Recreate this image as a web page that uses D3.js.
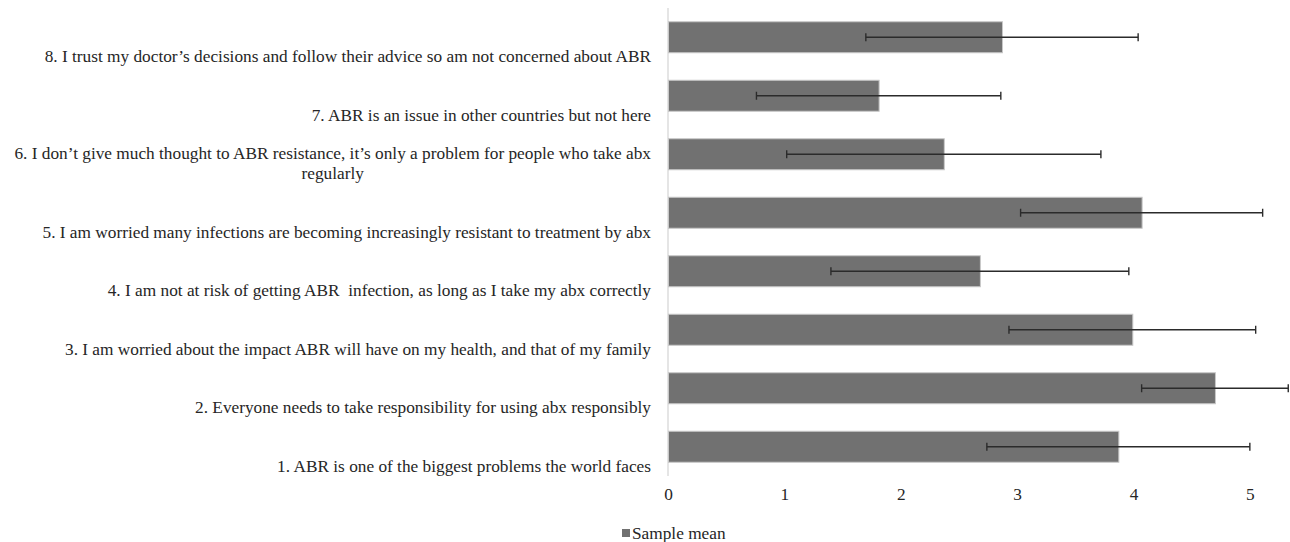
<!DOCTYPE html>
<html>
<head>
<meta charset="utf-8">
<script src="https://cdn.jsdelivr.net/npm/d3@7"></script>
<style>
  html, body { margin: 0; padding: 0; background: #fff; }
  svg { display: block; }
  svg text { fill: #262626; white-space: pre; }
</style>
</head>
<body>
<svg id="chart" width="1290" height="542"></svg>
<script>
const FONT = "Liberation Serif";
const FONT_SIZE = 17.3;

// Statements, listed bottom to top as drawn on the chart
const statements = [
  "1. ABR is one of the biggest problems the world faces",
  "2. Everyone needs to take responsibility for using abx responsibly",
  "3. I am worried about the impact ABR will have on my health, and that of my family",
  "4. I am not at risk of getting ABR  infection, as long as I take my abx correctly",
  "5. I am worried many infections are becoming increasingly resistant to treatment by abx",
  "6. I don\u2019t give much thought to ABR resistance, it\u2019s only a problem for people who take abx|regularly",
  "7. ABR is an issue in other countries but not here",
  "8. I trust my doctor\u2019s decisions and follow their advice so am not concerned about ABR"
];
// Sample mean per statement
const sampleMean = [3.87, 4.70, 3.99, 2.68, 4.07, 2.37, 1.81, 2.87];
// Standard deviation (error bar half-width)
const sampleSD = [1.13, 0.63, 1.06, 1.28, 1.04, 1.35, 1.05, 1.17];
const xTicks = [0, 1, 2, 3, 4, 5];
const seriesName = "Sample mean";

const svg = d3.select("#chart");
const plot = { left: 668, right: 1290, top: 8, bottom: 476 };

const x = d3.scaleLinear().domain([0, 5.345]).range([plot.left, plot.right]);
const y = d3.scaleBand()
  .domain(d3.range(statements.length).reverse())
  .range([plot.top, plot.bottom])
  .paddingInner(0.47).paddingOuter(0.235);

// Vertical category axis line
svg.append("line")
  .attr("x1", x(0)).attr("x2", x(0))
  .attr("y1", plot.top).attr("y2", plot.bottom)
  .attr("stroke", "#d4d4d4").attr("stroke-width", 1.2);

// Bars
svg.append("g").selectAll("rect")
  .data(sampleMean)
  .join("rect")
  .attr("x", x(0) + 0.5)
  .attr("y", (d, i) => y(i))
  .attr("width", d => x(d) - x(0))
  .attr("height", y.bandwidth())
  .attr("fill", "#717171")
  .attr("stroke", "#c8c8c8")
  .attr("stroke-width", 1);

// Error bars
const eb = svg.append("g").attr("stroke", "#2b2b2b").attr("stroke-width", 1.4);
sampleMean.forEach((m, i) => {
  const cy = y(i) + y.bandwidth() / 2;
  const lo = x(m - sampleSD[i]), hi = x(m + sampleSD[i]);
  eb.append("line").attr("x1", lo).attr("x2", hi).attr("y1", cy).attr("y2", cy);
  eb.append("line").attr("x1", lo).attr("x2", lo).attr("y1", cy - 4).attr("y2", cy + 4);
  eb.append("line").attr("x1", hi).attr("x2", hi).attr("y1", cy - 4).attr("y2", cy + 4);
});

// Category labels, right-aligned block; wrapped lines centred within the block
const labelRight = 651;
const lineGap = 20;
const labels = svg.append("g").attr("font-size", FONT_SIZE).attr("font-family", FONT);
statements.forEach((s, i) => {
  const lines = s.split("|");
  const baseY = y(i) + y.bandwidth() / 2 + 25;
  const g = labels.append("g");
  const texts = lines.map((ln, k) =>
    g.append("text")
      .attr("font-family", FONT)
      .attr("y", baseY - (lines.length - 1 - k) * lineGap)
      .text(ln));
  const widths = texts.map(t => t.node().getComputedTextLength());
  const maxW = d3.max(widths);
  const cx = labelRight - maxW / 2;
  texts.forEach(t => t.attr("x", cx).attr("text-anchor", "middle"));
});

// Value axis tick labels (no axis line)
const xAxis = svg.append("g")
  .attr("transform", `translate(0,${plot.bottom})`)
  .call(d3.axisBottom(x).tickValues(xTicks).tickFormat(d3.format("d")).tickSize(0).tickPadding(12));
xAxis.attr("font-family", FONT).attr("font-size", FONT_SIZE);
xAxis.select(".domain").remove();
xAxis.selectAll("text")
  .attr("font-family", FONT)
  .attr("fill", "#262626");

// Legend
const legend = svg.append("g").attr("transform", "translate(622,539)");
legend.append("rect").attr("x", 0).attr("y", -10).attr("width", 8).attr("height", 8).attr("fill", "#717171");
legend.append("text").attr("x", 10).attr("y", 0).attr("font-size", FONT_SIZE).attr("font-family", FONT).text(seriesName);
</script>
</body>
</html>
